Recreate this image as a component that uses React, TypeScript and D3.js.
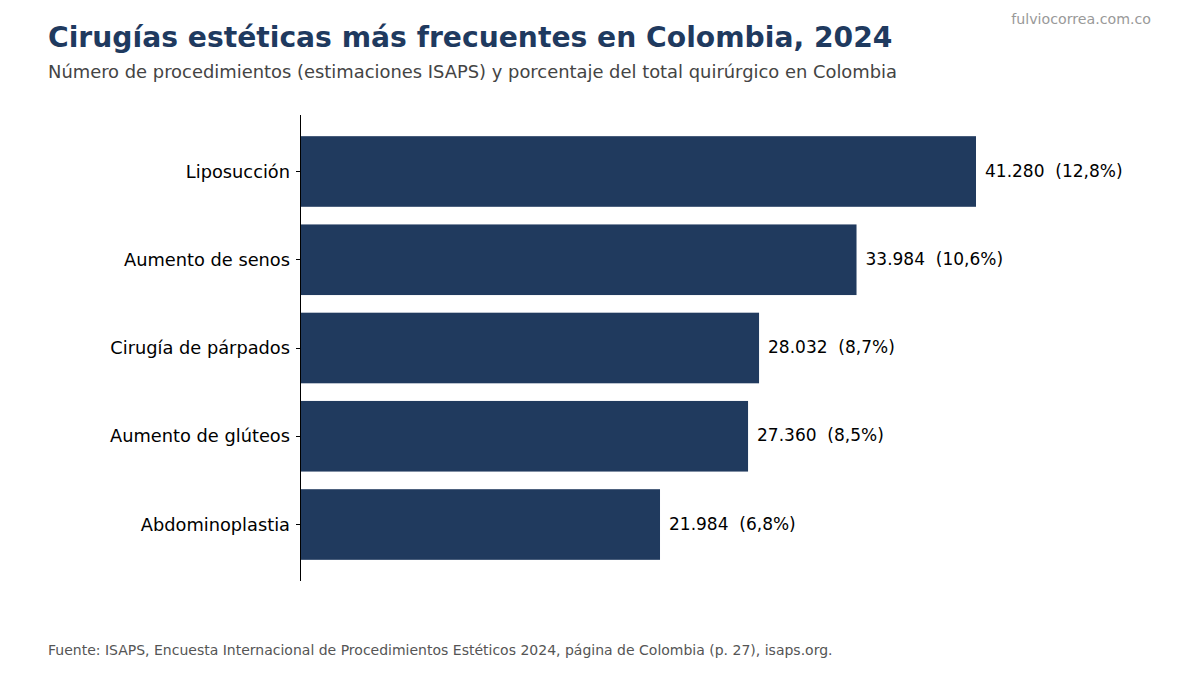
import React from 'react';
import * as d3 from 'd3';

const categories = ['Liposucción', 'Aumento de senos', 'Cirugía de párpados', 'Aumento de glúteos', 'Abdominoplastia'];
const procedures = [41280, 33984, 28032, 27360, 21984];
const shares = ['12,8%', '10,6%', '8,7%', '8,5%', '6,8%'];

const W = 1200;
const H = 675;
const NAVY = '#203a5e';
const FONT = '"DejaVu Sans", Verdana, sans-serif';

const App: React.FC = () => {
  const left = 300;
  const top = 115;
  const bottom = 581;

  const x = d3.scaleLinear().domain([0, d3.max(procedures)! * 1.25]).range([left, 1145]);
  // matplotlib-like y: indices -0.64 .. 4.64
  const y = d3.scaleLinear().domain([-0.64, categories.length - 1 + 0.64]).range([top, bottom]);
  const barH = y(0.8) - y(0);
  const fmt = d3.formatLocale({ decimal: ',', thousands: '.', grouping: [3], currency: ['', ''] }).format(',d');

  return (
    <svg width={W} height={H} viewBox={`0 0 ${W} ${H}`} style={{ display: 'block', margin: -8 }} fontFamily={FONT}>
      <rect width={W} height={H} fill="#fff" />
      <text x={48} y={47} fontSize={28.2} fontWeight="bold" fill="#1f3a5f">
        Cirugías estéticas más frecuentes en Colombia, 2024
      </text>
      <text x={48} y={78} fontSize={17.9} fill="#444">
        Número de procedimientos (estimaciones ISAPS) y porcentaje del total quirúrgico en Colombia
      </text>
      <text x={1151} y={24} fontSize={14.2} fill="#999" textAnchor="end">fulviocorrea.com.co</text>

      {categories.map((c, i) => (
        <g key={c}>
          <rect x={x(0)} y={y(i) - barH / 2} width={x(procedures[i]) - x(0)} height={barH} fill={NAVY} />
          <line x1={left - 4} x2={left} y1={y(i)} y2={y(i)} stroke="#000" strokeWidth={1} shapeRendering="crispEdges" />
          <text x={left - 10} y={y(i)} dy="0.35em" fontSize={17.8} textAnchor="end" fill="#000">{c}</text>
          <text x={x(procedures[i]) + 9} y={y(i)} dy="0.3em" fontSize={17} fill="#000" style={{ whiteSpace: 'pre' }}>
            {`${fmt(procedures[i])}  (${shares[i]})`}
          </text>
        </g>
      ))}
      <line x1={left} x2={left} y1={top} y2={bottom} stroke="#000" strokeWidth={1} shapeRendering="crispEdges" />

      <text x={48} y={655} fontSize={14} fill="#555">
        Fuente: ISAPS, Encuesta Internacional de Procedimientos Estéticos 2024, página de Colombia (p. 27), isaps.org.
      </text>
    </svg>
  );
};

export default App;
